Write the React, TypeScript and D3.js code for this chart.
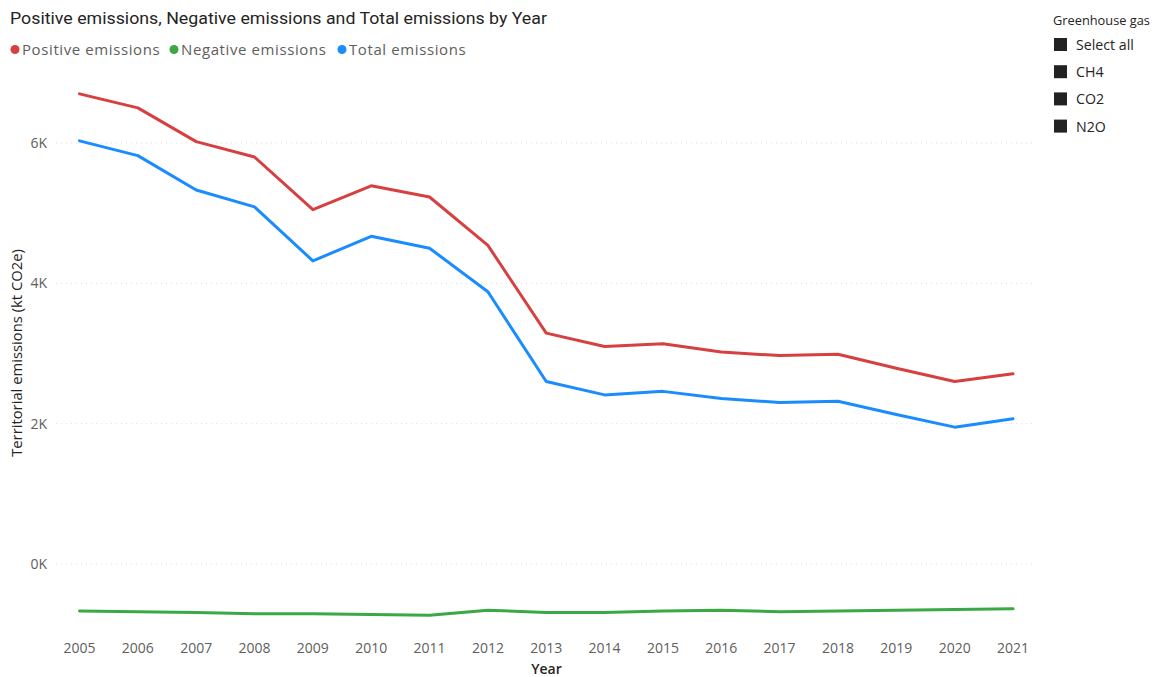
import React from "react";
import * as d3 from "d3";

// Year categories and emission series (kt CO2e)
const years: string[] = [
  "2005", "2006", "2007", "2008", "2009", "2010", "2011", "2012", "2013",
  "2014", "2015", "2016", "2017", "2018", "2019", "2020", "2021",
];
const positiveEmissions: number[] = [
  6700, 6500, 6020, 5800, 5050, 5390, 5230, 4540, 3290,
  3100, 3140, 3020, 2970, 2990, 2790, 2600, 2710,
];
const negativeEmissions: number[] = [
  -670, -680, -690, -710, -710, -720, -730, -660, -690,
  -690, -670, -660, -680, -670, -660, -650, -640,
];
const totalEmissions: number[] = [
  6030, 5820, 5330, 5090, 4320, 4670, 4500, 3880, 2600,
  2410, 2460, 2360, 2300, 2320, 2130, 1950, 2070,
];
const yTicks: number[] = [0, 2000, 4000, 6000];
const gasOptions: string[] = ["Select all", "CH4", "CO2", "N2O"];

const seriesList = [
  { name: "Positive emissions", values: positiveEmissions, color: "#D64040" },
  { name: "Negative emissions", values: negativeEmissions, color: "#3AA845" },
  { name: "Total emissions", values: totalEmissions, color: "#1A8CFF" },
];

const UI_FONT = "'Open Sans', 'Noto Sans', sans-serif";
const TITLE_FONT = "Roboto, 'Noto Sans', sans-serif";

export default function App() {
  const x = d3.scalePoint<string>().domain(years).range([79.5, 1013]);
  const y = d3.scaleLinear().domain([-800, 6900]).range([620.1, 79.85]);

  const line = d3
    .line<number>()
    .x((_, i) => x(years[i]) as number)
    .y((d) => y(d));

  const legendX = [15, 174, 342];

  return (
    <svg
      width={1152}
      height={677}
      style={{ position: "absolute", left: 0, top: 0, display: "block", background: "#fff" }}
    >
      {/* Title */}
      <text
        x={10}
        y={24}
        fontFamily={TITLE_FONT}
        fontSize={16.5}
        fill="#252423"
        textLength={537}
        lengthAdjust="spacingAndGlyphs"
      >
        Positive emissions, Negative emissions and Total emissions by Year
      </text>

      {/* Legend */}
      {seriesList.map((s, i) => (
        <g key={s.name}>
          <circle cx={legendX[i]} cy={49.5} r={4.5} fill={s.color} />
          <text
            x={legendX[i] + 7}
            y={54.5}
            fontFamily={UI_FONT}
            fontSize={15}
            letterSpacing={0.6}
            fill="#605E5C"
          >
            {s.name}
          </text>
        </g>
      ))}

      {/* Gridlines and y tick labels */}
      {yTicks.map((t) => (
        <g key={t}>
          <line
            x1={56}
            x2={1035}
            y1={y(t)}
            y2={y(t)}
            stroke="#DCDCDC"
            strokeWidth={1}
            strokeDasharray="1,4"
          />
          <text
            x={47}
            y={y(t) + 5}
            textAnchor="end"
            fontFamily={UI_FONT}
            fontSize={14}
            fill="#605E5C"
          >
            {`${t / 1000}K`}
          </text>
        </g>
      ))}

      {/* Y axis title */}
      <text
        transform={`translate(22, 353) rotate(-90)`}
        textAnchor="middle"
        fontFamily={UI_FONT}
        fontSize={14.8}
        fill="#252423"
      >
        Territorial emissions (kt CO2e)
      </text>

      {/* X tick labels */}
      {years.map((yr) => (
        <text
          key={yr}
          x={x(yr) as number}
          y={653.3}
          textAnchor="middle"
          fontFamily={UI_FONT}
          fontSize={14}
          fill="#605E5C"
        >
          {yr}
        </text>
      ))}
      <text
        x={546.5}
        y={674}
        textAnchor="middle"
        fontFamily={UI_FONT}
        fontSize={14}
        fontWeight={600}
        fill="#252423"
      >
        Year
      </text>

      {/* Series lines */}
      {seriesList.map((s) => (
        <path
          key={s.name}
          d={line(s.values) ?? ""}
          fill="none"
          stroke={s.color}
          strokeWidth={3}
          strokeLinejoin="round"
          strokeLinecap="round"
        />
      ))}

      {/* Greenhouse gas slicer */}
      <text x={1053} y={24.5} fontFamily={UI_FONT} fontSize={12.8} fill="#252423">
        Greenhouse gas
      </text>
      {gasOptions.map((g, i) => (
        <g key={g}>
          <rect x={1054} y={38 + i * 27.2} width={13} height={13} fill="#222222" />
          <text x={1076} y={50 + i * 27.2} fontFamily={UI_FONT} fontSize={14.2} fill="#252423">
            {g}
          </text>
        </g>
      ))}
    </svg>
  );
}
